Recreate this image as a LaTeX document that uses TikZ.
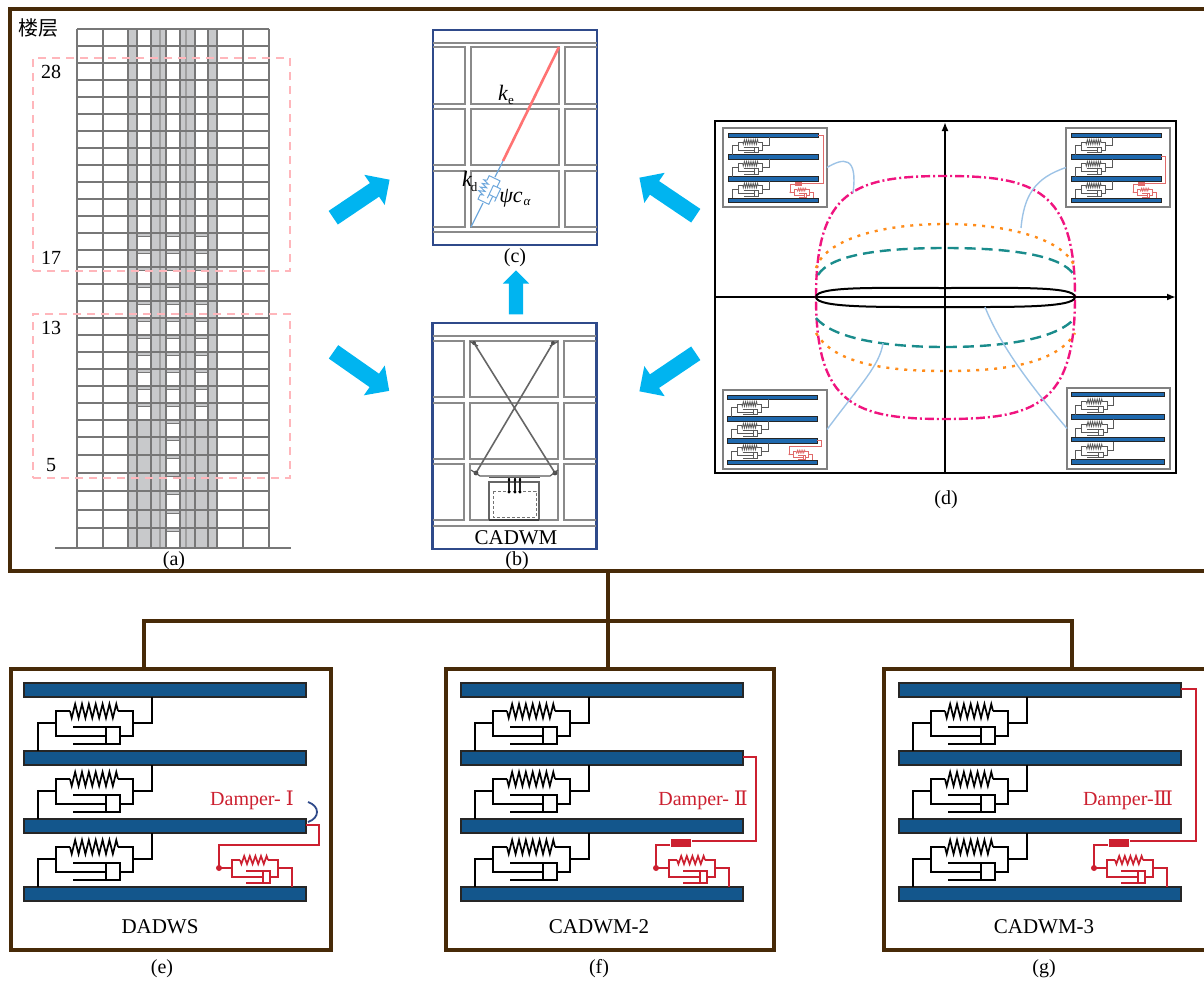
\documentclass[tikz,border=0pt]{standalone}
\usepackage{fontspec}
\setmainfont{Liberation Serif}
\newfontfamily\cjk{Noto Sans CJK SC}
\newfontfamily\rom{DejaVu Serif}
\usetikzlibrary{shapes.arrows,arrows.meta}
\definecolor{framebrown}{HTML}{472A08}
\definecolor{platebig}{HTML}{13568C}
\definecolor{plateins}{HTML}{1F69AE}
\definecolor{dampred}{HTML}{CC2030}
\definecolor{dampins}{HTML}{E06A6A}
\definecolor{leader}{HTML}{9DC3E6}
\definecolor{bldg}{HTML}{777777}
\definecolor{bldgfill}{HTML}{C8C9CB}
\definecolor{navyp}{HTML}{2F4A8A}
\definecolor{cellg}{HTML}{8A8A8A}
\definecolor{cyanarrow}{HTML}{00B4F0}
\definecolor{pinkc}{HTML}{F0147F}
\definecolor{orangec}{HTML}{FF8C1A}
\definecolor{tealc}{HTML}{1A8C8C}
\definecolor{dashpink}{HTML}{FFB6BB}
\definecolor{coilblue}{HTML}{6FA8DC}
\newcommand\fs[1]{\fontsize{#1}{#1}\selectfont}
\newcommand\zigz[5]{% x1,x2,y,amp,teeth
  (#1,#3) foreach \i in {1,...,#5} {-- ({#1+(\i-.5)*(#2-#1)/#5},{#3+#4*(2*mod(\i,2)-1)})} -- (#2,#3)}
% x, y, scale, line width, unit colour, plate colour, red colour, damper type (0-3)
\newcommand\schem[8]{%
\begin{scope}[shift={(#1,#2)},scale=#3,line width=#4pt]
 \foreach \pl in {0,68,136,204} \draw[fill=#6,draw=black!85,line width=1.2*#4 pt] (0,\pl) rectangle (282,\pl+14);
 \foreach \d in {0,68,136} {
   \draw[#5] (128,14+\d)--(128,40+\d)--(109,40+\d);
   \draw[#5] (14,68+\d)--(14,40+\d)--(32,40+\d);
   \draw[#5] (46,28+\d)--(32,28+\d)--(32,53+\d)--(82,53+\d);
   \draw[#5] (94,28+\d)--(109,28+\d)--(109,53+\d)--(96,53+\d);
   \draw[#5] \zigz{46}{94}{28+\d}{7}{14};
   \draw[#5] (49,44+\d)--(96,44+\d)--(96,61+\d)--(49,61+\d);
   \draw[#5] (82,44+\d)--(82,61+\d);
 }
 \ifnum#8>0
  \draw[#7] (216,177)--(208,177)--(208,194)--(239,194);
  \draw[#7] (244,177)--(254,177)--(254,194)--(246,194);
  \draw[#7] \zigz{216}{244}{177}{4}{10};
  \draw[#7] (222,188)--(246,188)--(246,200)--(222,200);
  \draw[#7] (239,188)--(239,200);
  \draw[#7] (254,185)--(268,185)--(268,204);
  \fill[#7] (195,185) circle[radius=3];
  \draw[#7] (195,185)--(208,185);
 \fi
 \ifcase#8\relax
 \or
  \draw[#7] (282,142)--(295,142)--(295,162)--(195,162)--(195,185);
 \or
  \draw[#7] (282,74)--(295,74)--(295,158)--(231,158);
  \draw[#7] (209,162)--(195,162)--(195,185);
  \draw[#7,line width=5*#4 pt] (210,160)--(230,160);
 \or
  \draw[#7] (282,6)--(297,6)--(297,158)--(231,158);
  \draw[#7] (209,162)--(195,162)--(195,185);
  \draw[#7,line width=5*#4 pt] (210,160)--(230,160);
 \fi
\end{scope}}
\tikzset{
  txt/.style={inner sep=0pt,outer sep=0pt,font=\fs{20}},
  redtxt/.style={inner sep=0pt,outer sep=0pt,font=\fs{20},text=dampred},
  brownbox/.style={draw=framebrown,line width=3.8pt,inner sep=0pt,outer sep=0pt},
  brownline/.style={draw=framebrown,line width=3.8pt},
  navybox/.style={draw=navyp,line width=2.8pt,inner sep=0pt,outer sep=0pt},
  insetbox/.style={draw=black!50,line width=1.4pt,inner sep=0pt,outer sep=0pt},
  bigarrow/.style={single arrow,fill=cyanarrow,draw=none,inner xsep=0pt,inner ysep=8pt,outer sep=0pt,
     single arrow head extend=10pt},
  smallarrow/.style={single arrow,fill=cyanarrow,draw=none,inner xsep=0pt,inner ysep=7pt,outer sep=0pt,
     single arrow head extend=6pt},
  cell/.style={draw=cellg,line width=1.5pt},
  leaderline/.style={draw=leader,line width=1.4pt},
  dashrect/.style={draw=dashpink,line width=1.3pt,dash pattern=on 8pt off 6pt,inner sep=0pt,outer sep=0pt},
  axisline/.style={-{Latex[length=9pt,width=7pt]},black,line width=1.8pt},
}
\begin{document}
\begin{tikzpicture}[x=1pt,y=-1pt]
\useasboundingbox (0,0) rectangle (1204,983);
\node[inner sep=0pt,outer sep=0pt,minimum width=1196pt,minimum height=562pt] (main) at (608,290) {};
\draw[brownline] (main.north east)--(main.north west)--(main.south west)--(main.south east);
% ---- building (a)
\fill[bldgfill] (128,29) rectangle (217,548);
\foreach \ya/\yb in {29/46,46/63,63/80,80/97,97/114,114/131,131/148,148/165,165/182,182/199,199/216,216/233}{
  \foreach \xa/\xb in {138/151,167/180,196/208}{\fill[white] (\xa,\ya) rectangle (\xb,\yb);}}
\foreach \ya/\yb in {233/250,250/267,267/284,284/301,301/318,318/335,335/352,352/369,369/386,386/403,403/420}{
  \foreach \xa/\xb in {138/151,167/180,196/208}{
    \fill[white] (\xa,\ya+4) rectangle (\xb,\yb);
    \draw[bldg,line width=1pt] (\xa,\ya+3.5)--(\xb,\ya+3.5);}}
\foreach \ya/\yb in {420/437,437/455,455/473,473/491,491/510,510/528,528/548}{
  \fill[white] (167,\ya+4) rectangle (180,\yb);
  \draw[bldg,line width=1pt] (167,\ya+3.5)--(180,\ya+3.5);}
\foreach \xx in {77,103,128,137,151,166,180,195,208,217,243,269}
  \draw[bldg,line width=1.6pt] (\xx,29)--(\xx,548);
\foreach \xx in {160,186}
  \draw[bldg!70!white,line width=1.4pt] (\xx,29)--(\xx,548);
\foreach \yy in {29,46,63,80,97,114,131,148,165,182,199,216,233,250,267,284,301,318,335,352,369,386,403,420,437,455,473,491,510,528}
  \draw[bldg,line width=1.8pt] (77,\yy)--(269,\yy);
\draw[bldg,line width=2.2pt] (55,548)--(291,548);
\node[dashrect,minimum width=257pt,minimum height=213pt] (upperzone) at (161.5,164.5) {};
\node[dashrect,minimum width=257pt,minimum height=164pt] (lowerzone) at (161.5,396) {};
\node[txt,font=\fs{20}\cjk] (floorlabel) at (38,28) {楼层};
\node[txt] (f28) at (51,72) {28};
\node[txt] (f17) at (51,258) {17};
\node[txt] (f13) at (51,328) {13};
\node[txt] (f5) at (51,465) {5};
\node[txt] (la) at (174,561) {(a)};
% ---- panel (c)
\node[navybox,minimum width=164pt,minimum height=215pt] (pc) at (515,137.5) {};
\draw[cell] (433,43)--(597,43) (433,232)--(597,232);
\foreach \ya/\yb in {47/104,109/165,171/227}{
  \draw[cell] (433,\ya)--(465,\ya)--(465,\yb)--(433,\yb);
  \draw[cell] (471,\ya) rectangle (559,\yb);
  \draw[cell] (597,\ya)--(565,\ya)--(565,\yb)--(597,\yb);}
\coordinate (rtop) at (559,47);
\coordinate (rbot) at (503,161);
\coordinate (bbot) at (471,227);
\draw[color=red!55!white,line width=2.6pt] (rtop)--(rbot);
\draw[coilblue,line width=1.2pt] (rbot)--(495,177);
\draw[coilblue,line width=1.2pt] (483,203)--(bbot);
\begin{scope}[shift={(489,190)},rotate=64.5,line width=1pt]
  \draw[coilblue] \zigz{-8}{8}{-6}{3}{8};
  \draw[coilblue] (-8,-6)--(-13,-6)--(-13,6)--(-4,6) (8,-6)--(13,-6)--(13,6)--(6,6);
  \draw[coilblue] (-8,2)--(6,2)--(6,10)--(-8,10) (-4,2)--(-4,10);
\end{scope}
\node[txt,font=\fs{22}\itshape] (ke) at (503,93) {k};
\node[txt,font=\fs{13}] (kes) at (511,101) {e};
\node[txt,font=\fs{22}\itshape] (kd) at (467,179) {k};
\node[txt,font=\fs{13}] (kds) at (474,187) {d};
\node[txt,font=\fs{22}\itshape] (psic) at (511,198) {ψc};
\node[txt,font=\fs{13}\itshape] (alpha) at (527,202) {α};
\node[txt] (lc) at (515,258) {(c)};
% ---- panel (b)
\node[navybox,minimum width=164pt,minimum height=226pt] (pb) at (514.5,436) {};
\draw[cell] (433,336)--(596,336) (433,526)--(596,526);
\foreach \ya/\yb in {341/397,403/459,464/520}{
  \draw[cell] (433,\ya)--(464,\ya)--(464,\yb)--(433,\yb);
  \draw[cell] (470,\ya) rectangle (558,\yb);
  \draw[cell] (596,\ya)--(564,\ya)--(564,\yb)--(596,\yb);}
\coordinate (b1) at (474,343); \coordinate (b2) at (553,343);
\coordinate (b3) at (555,473); \coordinate (b4) at (476,473);
\draw[black!60,line width=1.6pt] (b1)--(b3) (b2)--(b4);
\fill[black!70] (b1) circle[radius=2] (b2) circle[radius=2] (b3) circle[radius=2.4] (b4) circle[radius=2.4];
\draw[black!65,line width=1.2pt] (470,341.5)--(478,346) (558,341.5)--(550,346);
\draw[black!65,line width=1.2pt] (471,470)--(480,476)--(550,476)--(558,470);
\draw[black!65,line width=1.8pt] (489,477.5)--(540,477.5);
\draw[black!60,line width=1.2pt] (489,520)--(489,482)--(539,482)--(539,520);
\draw[black!75,line width=1.8pt] (489,520)--(539,520);
\draw[black!55,line width=1pt,densely dashed] (493,491) rectangle (536,517);
\foreach \xx in {509,515,520}{
  \draw[black!85,line width=1.6pt] (\xx,478)--(\xx,492);
  \fill[black] (\xx,492) circle[radius=1.7] (\xx,480) circle[radius=1.3];}
\node[txt,font=\fs{21}] (cadwmlabel) at (516,538) {CADWM};
\node[txt] (lb) at (517,561) {(b)};
% ---- panel (d)
\node[draw=black,line width=2pt,inner sep=0pt,outer sep=0pt,minimum width=461pt,minimum height=352pt] (pd) at (945.5,297) {};
\draw[axisline] (945,473)--(945,122);
\draw[axisline] (715,297)--(1176,297);
\draw[pinkc,line width=2.4pt,dash pattern=on 9pt off 3pt on 2pt off 3pt]
  (816,297) .. controls (816,190) and (855,176) .. (945,176) .. controls (1035,176) and (1075,190) .. (1075,297)
  .. controls (1075,405) and (1035,419) .. (945,419) .. controls (855,419) and (816,405) .. (816,297);
\draw[orangec,line width=2.4pt,dash pattern=on 3pt off 6pt]
  (816,268) .. controls (825,240) and (880,224) .. (945,224) .. controls (1010,224) and (1066,240) .. (1075,268);
\draw[orangec,line width=2.4pt,dash pattern=on 3pt off 6pt]
  (816,333) .. controls (835,365) and (890,371) .. (945,371) .. controls (1000,371) and (1056,365) .. (1075,333);
\draw[tealc,line width=2.4pt,dash pattern=on 11pt off 6pt]
  (818,275) .. controls (830,255) and (880,248) .. (945,248) .. controls (1010,248) and (1062,255) .. (1074,275);
\draw[tealc,line width=2.4pt,dash pattern=on 11pt off 6pt]
  (816,318) .. controls (835,340) and (890,347) .. (945,347) .. controls (1000,347) and (1056,340) .. (1075,318);
\draw[black,line width=2pt] (816,297) .. controls (816,286) and (880,288) .. (945,288) .. controls (1010,288) and (1075,286) .. (1075,297)
  .. controls (1075,308) and (1010,307) .. (945,307) .. controls (880,307) and (816,308) .. (816,297);
% insets
\node[insetbox,fill=white,minimum width=104pt,minimum height=79pt] (intl) at (775,167.5) {};
\node[insetbox,fill=white,minimum width=104pt,minimum height=79pt] (intr) at (1118,167.5) {};
\node[insetbox,fill=white,minimum width=104pt,minimum height=79pt] (inbl) at (775,429.5) {};
\node[insetbox,fill=white,minimum width=103pt,minimum height=81pt] (inbr) at (1118.5,428.5) {};
\schem{728}{133}{0.32}{0.8}{black!65}{plateins}{dampins}{3}
\schem{1071}{133}{0.32}{0.8}{black!65}{plateins}{dampins}{2}
\schem{727}{395}{0.32}{0.8}{black!65}{plateins}{dampins}{1}
\schem{1071}{392}{0.333}{0.8}{black!65}{plateins}{dampins}{0}
\draw[leaderline] (intl.east) .. controls (843,158) and (858,155) .. (853,193);
\draw[leaderline] (intr.west) .. controls (1035,178) and (1024,195) .. (1021,228);
\draw[leaderline] (inbl.east) .. controls (860,385) and (880,365) .. (883,343);
\draw[leaderline] (inbr.west) .. controls (1030,385) and (1000,345) .. (985,307);
\node[txt] (ld) at (946,500) {(d)};
% ---- big arrows
\node[bigarrow,minimum height=68pt,rotate=34] (ar1) at (358,201) {};
\node[bigarrow,minimum height=68pt,rotate=-35] (ar2) at (358,369) {};
\node[smallarrow,minimum height=44pt,rotate=90] (ar3) at (516,296) {};
\node[bigarrow,minimum height=68pt,rotate=146] (ar4) at (671,199) {};
\node[bigarrow,minimum height=68pt,rotate=-146] (ar5) at (671,370) {};
% ---- lower boxes
\node[brownbox,minimum width=320pt,minimum height=281pt] (be) at (171,809.5) {};
\node[brownbox,minimum width=328pt,minimum height=281pt] (bf) at (610,809.5) {};
\node[inner sep=0pt,outer sep=0pt,minimum width=320pt,minimum height=281pt] (bg) at (1044,809.5) {};
\draw[brownline] (bg.north east)--(bg.north west)--(bg.south west)--(bg.south east);
\coordinate (jn) at (608,621);
\coordinate (je) at (144,621);
\coordinate (jg) at (1072,621);
\draw[brownline] (main.south)--(jn);
\draw[brownline] (je |- be.north)--(je)--(jg)--(jg |- bg.north);
\draw[brownline] (jn)--(jn |- bf.north);
\schem{24}{683}{1}{1.7}{black}{platebig}{dampred}{1}
\schem{461}{683}{1}{1.7}{black}{platebig}{dampred}{2}
\schem{899}{683}{1}{1.7}{black}{platebig}{dampred}{3}
\draw[color=navyp,line width=1.8pt] (308,802) .. controls (320,806) and (320,818) .. (308,822);
\node[redtxt] (d1) at (252,800) {Damper- {\rom Ⅰ}};
\node[redtxt] (d2) at (703,800) {Damper- {\rom Ⅱ}};
\node[redtxt] (d3) at (1128,800) {Damper-{\rom Ⅲ}};
\node[txt,font=\fs{21}] (ne) at (160,927) {DADWS};
\node[txt,font=\fs{21}] (nf) at (599,927) {CADWM-2};
\node[txt,font=\fs{21}] (ng) at (1044,927) {CADWM-3};
\node[txt] (le) at (162,969) {(e)};
\node[txt] (lf) at (599,969) {(f)};
\node[txt] (lg) at (1044,969) {(g)};
\end{tikzpicture}
\end{document}
